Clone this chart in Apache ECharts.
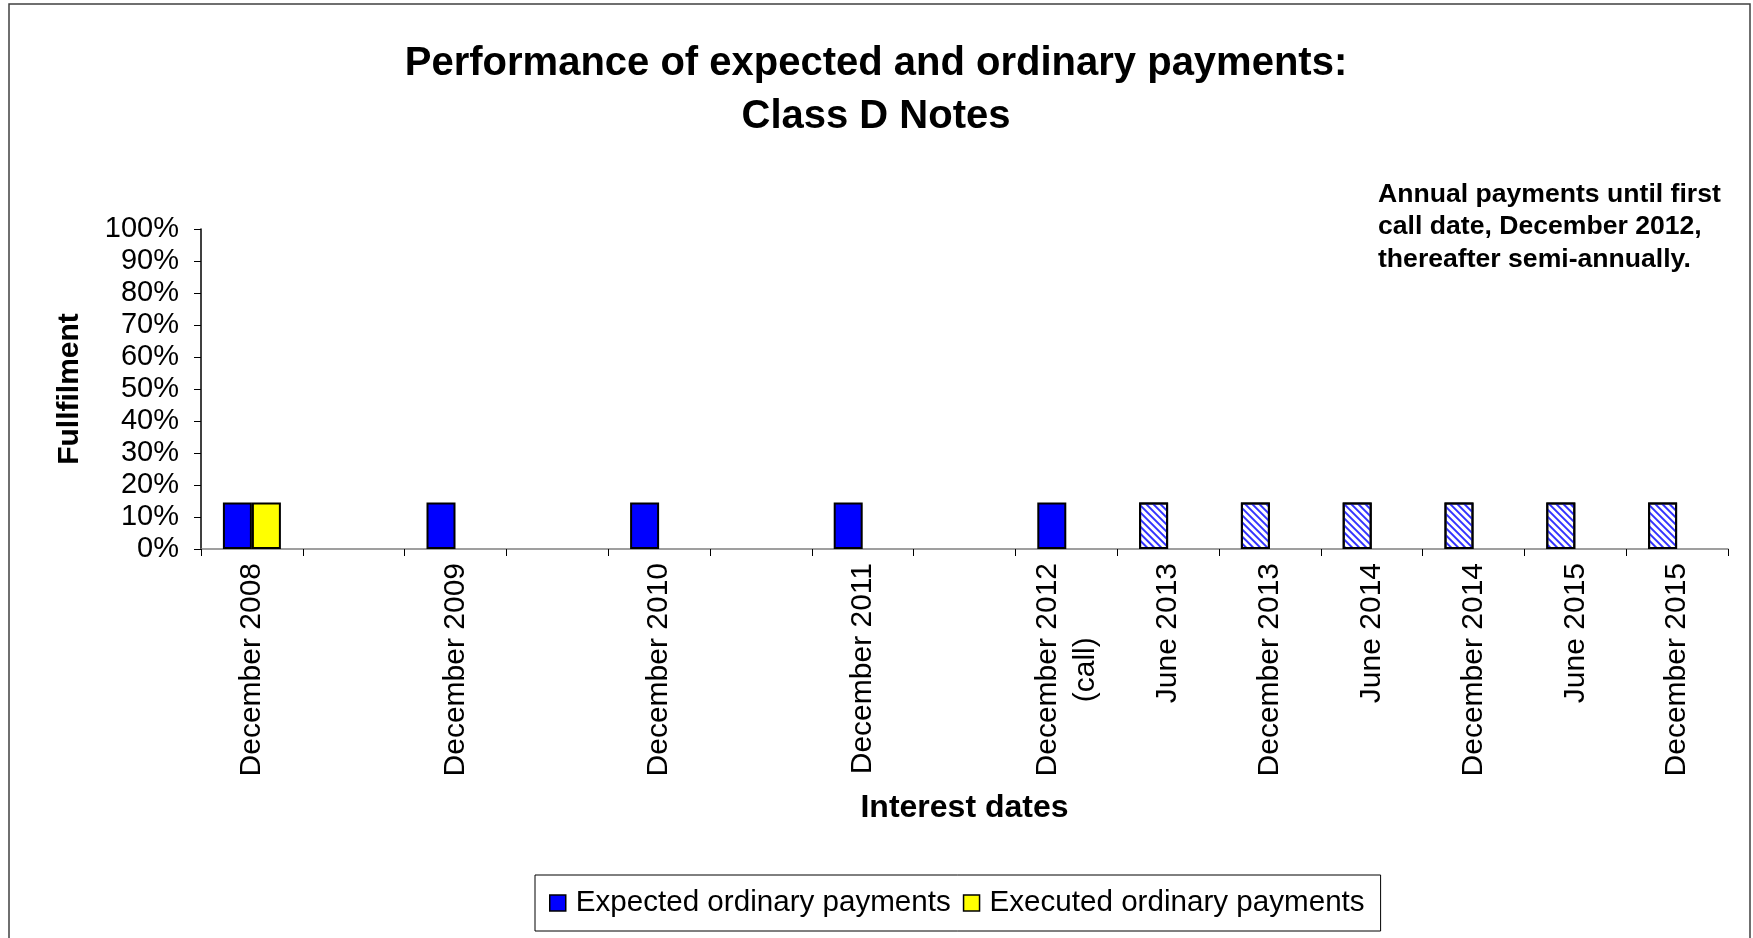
<!DOCTYPE html>
<html>
<head>
<meta charset="utf-8">
<script src="https://cdn.jsdelivr.net/npm/echarts@6/dist/echarts.min.js"></script>
<style>
html,body{margin:0;padding:0;background:#fff;}
#chart{width:1753px;height:938px;}
</style>
</head>
<body>
<div id="chart"></div>
<script>
// ---- data ----
const categories = ['December 2008','June 2009','December 2009','June 2010','December 2010','June 2011','December 2011','June 2012','December 2012','June 2013','December 2013','June 2014','December 2014','June 2015','December 2015'];
const tickLabels = ['December 2008','','December 2009','','December 2010','','December 2011','','December 2012\n(call)','June 2013','December 2013','June 2014','December 2014','June 2015','December 2015'];
const expectedPayments = [14.5,null,14.5,null,14.5,null,14.5,null,14.5,14.5,14.5,14.5,14.5,14.5,14.5];
const executedPayments = [14.5,null,null,null,null,null,null,null,null,null,null,null,null,null,null];
const projected = [false,false,false,false,false,false,false,false,false,true,true,true,true,true,true];
const yMin = 0, yMax = 100, yInterval = 10;
const titleLines = ['Performance of expected and ordinary payments:','Class D Notes'];
const noteText = 'Annual payments until first\ncall date, December 2012,\nthereafter semi-annually.';

const FONT = "'Liberation Sans', Arial, sans-serif";

const hatch = {
  symbol: 'rect',
  symbolSize: 1,
  dashArrayX: [1, 0],
  dashArrayY: [2, 3],
  rotation: Math.PI / 4,
  color: '#3333ff'
};

const expectedData = expectedPayments.map((v, i) => projected[i]
  ? { value: v, itemStyle: { color: '#ffffff', decal: hatch } }
  : v);

const chart = echarts.init(document.getElementById('chart'), null, { renderer: 'canvas' });
chart.setOption({
  backgroundColor: '#ffffff',
  animation: false,
  grid: { left: 201, right: 25, top: 229, bottom: 389, containLabel: false },
  legend: {
    left: 535, top: 875,
    padding: [13, 16, 13, 14],
    itemGap: 12,
    itemWidth: 16, itemHeight: 16,
    icon: 'rect',
    borderColor: '#000', borderWidth: 1, backgroundColor: '#fff',
    itemStyle: { borderColor: '#000', borderWidth: 1.5 },
    textStyle: { fontFamily: FONT, fontSize: 29.6, color: '#000', padding: [0, 0, 0, 5] },
    data: ['Expected ordinary payments', 'Executed ordinary payments']
  },
  xAxis: {
    type: 'category',
    data: categories,
    boundaryGap: true,
    name: 'Interest dates',
    nameLocation: 'middle',
    nameGap: 243,
    nameTextStyle: { fontFamily: FONT, fontSize: 32, fontWeight: 'bold', color: '#000' },
    axisLine: { lineStyle: { color: '#808080', width: 1.5 } },
    axisTick: { show: true, length: 7, alignWithLabel: false, interval: 0, lineStyle: { color: '#000', width: 1 } },
    axisLabel: {
      interval: 0,
      rotate: 90,
      margin: 14,
      color: '#000',
      fontFamily: FONT,
      fontSize: 30,
      formatter: (value, index) => {
        const t = tickLabels[index];
        if (!t) return '';
        return t.split('\n').map(s => '{c|' + s + '}').join('\n');
      },
      rich: { c: { align: 'center', fontFamily: FONT, fontSize: 30, lineHeight: 38, color: '#000' } }
    },
    splitLine: { show: false }
  },
  yAxis: {
    type: 'value',
    min: yMin, max: yMax, interval: yInterval,
    name: 'Fullfilment',
    nameLocation: 'middle',
    nameGap: 116,
    nameRotate: 90,
    nameTextStyle: { fontFamily: FONT, fontSize: 30, fontWeight: 'bold', color: '#000' },
    axisLine: { show: true, lineStyle: { color: '#000', width: 1.5 } },
    axisTick: { show: true, length: 7, lineStyle: { color: '#000', width: 1 } },
    axisLabel: { margin: 22, color: '#000', fontFamily: FONT, fontSize: 29, formatter: '{value}%' },
    splitLine: { show: false }
  },
  series: [
    {
      name: 'Expected ordinary payments',
      type: 'bar',
      data: expectedData,
      barWidth: 29,
      barGap: '0%',
      itemStyle: { color: '#0000ff', borderColor: '#000', borderWidth: 2 }
    },
    {
      name: 'Executed ordinary payments',
      type: 'bar',
      data: executedPayments,
      barWidth: 29,
      barGap: '0%',
      itemStyle: { color: '#ffff00', borderColor: '#000', borderWidth: 2 }
    }
  ],
  graphic: [
    { type: 'rect', shape: { x: 9, y: 4, width: 1741, height: 945 }, style: { fill: 'none', stroke: '#404040', lineWidth: 1.5 }, silent: true },
    { type: 'text', x: 876, y: 64, style: { text: titleLines[0], font: 'bold 40px ' + FONT, fill: '#000', textAlign: 'center', textVerticalAlign: 'middle' } },
    { type: 'text', x: 876, y: 117, style: { text: titleLines[1], font: 'bold 40px ' + FONT, fill: '#000', textAlign: 'center', textVerticalAlign: 'middle' } },
    { type: 'text', x: 1378, y: 178, style: { text: noteText, font: 'bold 26.6px ' + FONT, lineHeight: 32.5, fill: '#000', textAlign: 'left', textVerticalAlign: 'top' } }
  ]
});
</script>
</body>
</html>
